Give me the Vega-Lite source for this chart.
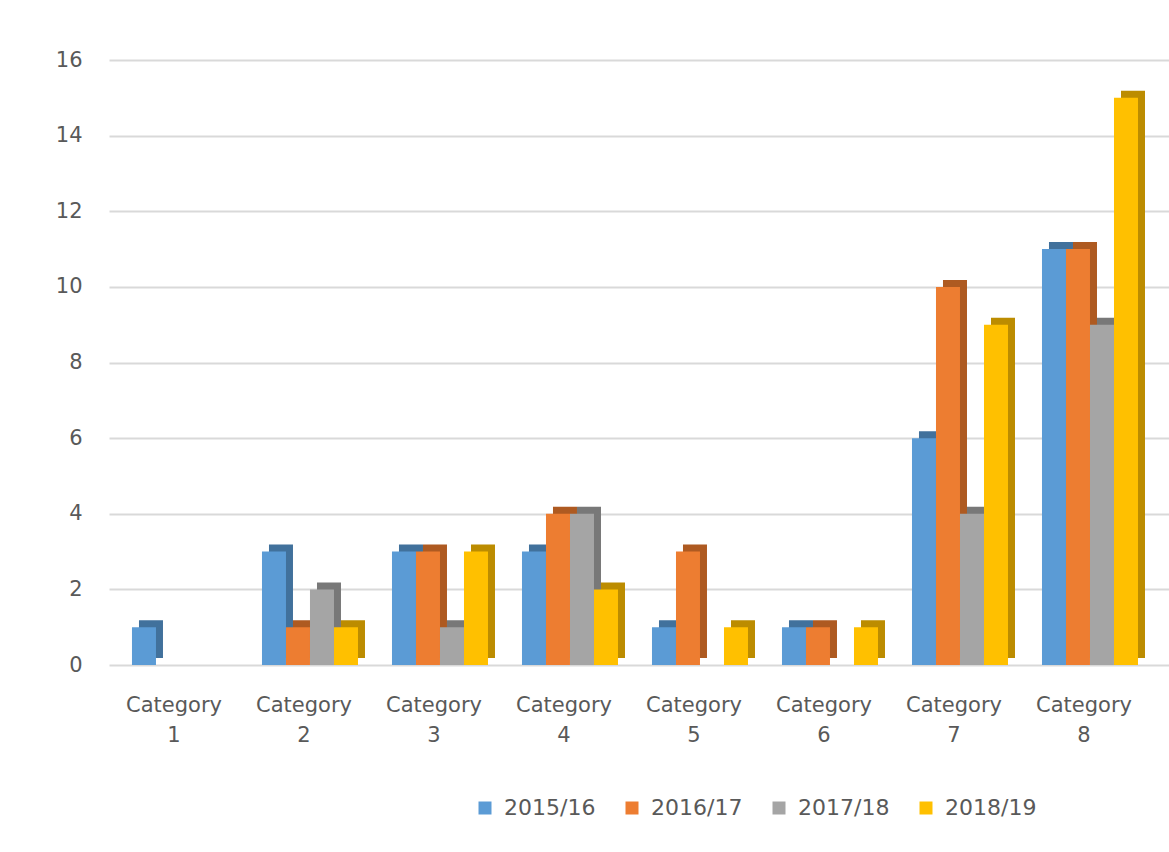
{
  "$schema": "https://vega.github.io/schema/vega-lite/v6.json",
  "autosize": {"type": "none"},
  "padding": {"left": 109, "top": 60, "right": 0, "bottom": 187},
  "width": 1060,
  "height": 605,
  "background": "white",
  "config": {
    "font": "DejaVu Sans",
    "view": {"stroke": null}
  },
  "data": {
    "values": [
      {"category": "Category 1", "year": "2015/16", "value": 1},
      {"category": "Category 1", "year": "2016/17", "value": 0},
      {"category": "Category 1", "year": "2017/18", "value": 0},
      {"category": "Category 1", "year": "2018/19", "value": 0},
      {"category": "Category 2", "year": "2015/16", "value": 3},
      {"category": "Category 2", "year": "2016/17", "value": 1},
      {"category": "Category 2", "year": "2017/18", "value": 2},
      {"category": "Category 2", "year": "2018/19", "value": 1},
      {"category": "Category 3", "year": "2015/16", "value": 3},
      {"category": "Category 3", "year": "2016/17", "value": 3},
      {"category": "Category 3", "year": "2017/18", "value": 1},
      {"category": "Category 3", "year": "2018/19", "value": 3},
      {"category": "Category 4", "year": "2015/16", "value": 3},
      {"category": "Category 4", "year": "2016/17", "value": 4},
      {"category": "Category 4", "year": "2017/18", "value": 4},
      {"category": "Category 4", "year": "2018/19", "value": 2},
      {"category": "Category 5", "year": "2015/16", "value": 1},
      {"category": "Category 5", "year": "2016/17", "value": 3},
      {"category": "Category 5", "year": "2017/18", "value": 0},
      {"category": "Category 5", "year": "2018/19", "value": 1},
      {"category": "Category 6", "year": "2015/16", "value": 1},
      {"category": "Category 6", "year": "2016/17", "value": 1},
      {"category": "Category 6", "year": "2017/18", "value": 0},
      {"category": "Category 6", "year": "2018/19", "value": 1},
      {"category": "Category 7", "year": "2015/16", "value": 6},
      {"category": "Category 7", "year": "2016/17", "value": 10},
      {"category": "Category 7", "year": "2017/18", "value": 4},
      {"category": "Category 7", "year": "2018/19", "value": 9},
      {"category": "Category 8", "year": "2015/16", "value": 11},
      {"category": "Category 8", "year": "2016/17", "value": 11},
      {"category": "Category 8", "year": "2017/18", "value": 9},
      {"category": "Category 8", "year": "2018/19", "value": 15}
    ]
  },
  "encoding": {
    "x": {
      "field": "category", "type": "nominal", "sort": null,
      "scale": {"paddingInner": 0, "paddingOuter": 0.0769, "align": 0},
      "axis": {
        "title": null, "domain": false, "ticks": false, "labelAngle": 0,
        "labelExpr": "split(datum.label, ' ')",
        "labelFontSize": 21, "labelColor": "#595959", "labelPadding": 29,
        "labelLineHeight": 30
      }
    },
    "y": {
      "field": "value", "type": "quantitative",
      "scale": {"domain": [0, 16], "nice": false},
      "axis": {
        "title": null, "domain": false, "ticks": false,
        "values": [0, 2, 4, 6, 8, 10, 12, 14, 16],
        "labelFontSize": 21, "labelColor": "#595959", "labelPadding": 27,
        "gridColor": "#d9d9d9", "gridWidth": 2
      }
    }
  },
  "layer": [
    {
      "mark": {"type": "bar", "yOffset": -7},
      "encoding": {
        "xOffset": {
          "field": "year", "type": "nominal", "sort": null,
          "scale": {"paddingInner": 0, "paddingOuter": 0.708, "align": 0.882}
        },
        "color": {
          "field": "year", "type": "nominal", "sort": null,
          "scale": {"range": ["#41719c", "#ae5a21", "#787878", "#bc8c00"]},
          "legend": null
        }
      }
    },
    {
      "mark": {"type": "bar"},
      "encoding": {
        "xOffset": {
          "field": "year", "type": "nominal", "sort": null,
          "scale": {"paddingInner": 0, "paddingOuter": 0.708, "align": 0.676}
        },
        "color": {
          "field": "year", "type": "nominal", "sort": null,
          "scale": {"range": ["#5b9bd5", "#ed7d31", "#a5a5a5", "#ffc000"]},
          "legend": {
            "title": null, "orient": "none", "direction": "horizontal",
            "legendX": 365, "legendY": 737,
            "symbolType": "square", "symbolSize": 169, "symbolStrokeWidth": 0,
            "labelFontSize": 22, "labelColor": "#595959", "labelOffset": 8,
            "columnPadding": 25
          }
        }
      }
    }
  ],
  "resolve": {"scale": {"color": "independent", "xOffset": "independent"}}
}
